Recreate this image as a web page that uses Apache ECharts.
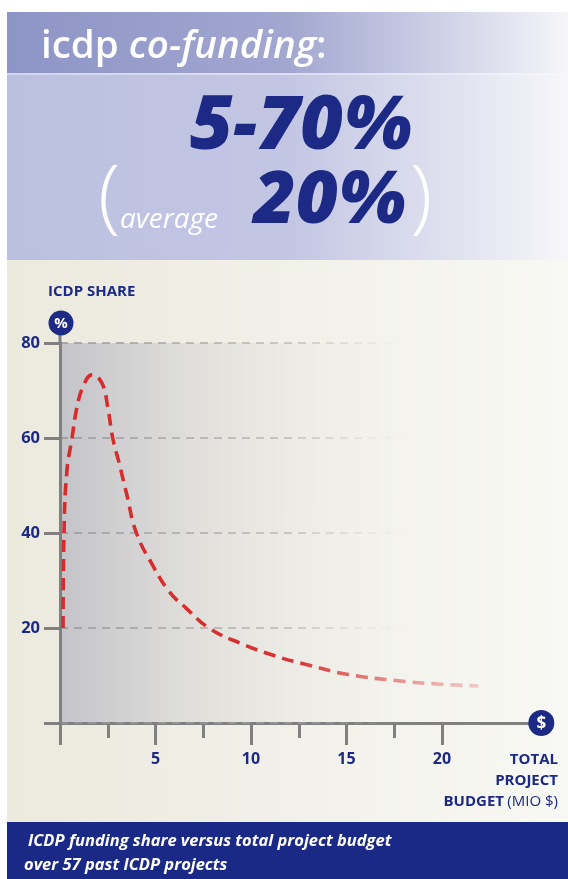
<!DOCTYPE html>
<html><head><meta charset="utf-8">
<script src="https://cdn.jsdelivr.net/npm/echarts@6/dist/echarts.min.js"></script>
<style>
html,body{margin:0;padding:0;background:#fff;width:568px;height:879px;overflow:hidden;}
.bg{position:absolute;left:7px;width:561px;}
#chart{position:absolute;left:0;top:0;width:568px;height:879px;}
</style></head><body>
<div class="bg" style="top:12px;height:61px;background:linear-gradient(90deg,#8d95c7 0%,#a2a7d0 50%,#d6d8ea 82%,#f6f6f9 100%)"></div>
<div class="bg" style="top:73px;height:2px;background:linear-gradient(90deg,#d3d6ec 0%,#dfe1f0 60%,#f8f8fb 100%)"></div>
<div class="bg" style="top:75px;height:185px;background:linear-gradient(90deg,#bcc0e0 0%,#c3c6e3 50%,#e3e4f1 82%,#f7f7fa 100%)"></div>
<div class="bg" style="top:260px;height:562px;background:linear-gradient(90deg,#ece9dd 0%,#f2f1ea 55%,#f8f8f4 100%)"></div>
<div class="bg" style="top:822px;height:57px;background:#1b2986"></div>
<div id="chart"></div>
<script>
// Data
const budgetMio = [0.16, 0.21, 0.36, 0.63, 0.89, 1.2, 1.67, 2.19, 2.5, 2.76, 3.13, 3.49, 4.0, 4.84, 5.73, 6.6, 7.8, 9.5, 11.2, 13.0, 15.1, 17.7, 19.8, 21.9];
const icdpShare = [20, 40, 53, 60, 66.5, 70.7, 73.3, 71.6, 66.5, 60, 54.2, 48.2, 40, 33.3, 27.6, 24.2, 20, 16.7, 14.2, 12.2, 10.2, 8.9, 8.2, 7.8];
const yTickValues = [20, 40, 60, 80];
const xTickLabels = [5, 10, 15, 20];
const xMajorTicks = [0, 5, 10, 15, 20];
const xMinorTicks = [2.5, 7.5, 12.5, 17.5];

const NAVY = '#1c2a85';
const FONT = '"Open Sans", "Noto Sans", sans-serif';
const AXIS_GRAY = '#808080';

const chart = echarts.init(document.getElementById('chart'), null, {renderer: 'canvas'});
const option = {
  backgroundColor: 'transparent',
  animation: false,
  grid: {
    left: 60, top: 343, width: 477.5, height: 380,
    show: true, borderWidth: 0,
    backgroundColor: new echarts.graphic.LinearGradient(0, 0, 1, 0, [
      {offset: 0, color: '#c3c3c9'},
      {offset: 0.28, color: 'rgba(222,221,218,0.9)'},
      {offset: 0.72, color: 'rgba(240,238,232,0)'}
    ])
  },
  xAxis: [{
    type: 'value', min: 0, max: 25, interval: 5,
    axisLine: {show: true, lineStyle: {color: AXIS_GRAY, width: 3}},
    axisTick: {show: true, length: 22, customValues: xMajorTicks, lineStyle: {color: AXIS_GRAY, width: 3}},
    splitLine: {show: false},
    axisLabel: {
      margin: 28, color: NAVY, fontFamily: FONT, fontWeight: 'bold', fontSize: 16,
      verticalAlign: 'top', customValues: xTickLabels,
      formatter: v => (xTickLabels.indexOf(v) >= 0 ? String(v) : '')
    }
  }, {
    type: 'value', min: 0, max: 25, position: 'bottom',
    axisLine: {show: false},
    axisTick: {show: true, length: 15, customValues: xMinorTicks, lineStyle: {color: AXIS_GRAY, width: 3}},
    axisLabel: {show: false},
    splitLine: {show: false}
  }],
  yAxis: {
    type: 'value', min: 0, max: 80, interval: 20, z: 1,
    axisLine: {show: true, lineStyle: {color: AXIS_GRAY, width: 3}},
    axisTick: {show: true, length: 16, lineStyle: {color: AXIS_GRAY, width: 3}},
    splitLine: {
      show: true,
      lineStyle: {
        type: [8, 6], width: 1.6,
        color: new echarts.graphic.LinearGradient(0, 0, 1, 0, [
          {offset: 0, color: 'rgba(150,150,150,1)'},
          {offset: 0.48, color: 'rgba(165,165,165,0.7)'},
          {offset: 0.72, color: 'rgba(190,190,190,0)'}
        ])
      }
    },
    axisLabel: {
      margin: 20, color: NAVY, fontFamily: FONT, fontWeight: 'bold', fontSize: 16.5,
      formatter: v => (yTickValues.indexOf(v) >= 0 ? String(v) : '')
    }
  },
  series: [{
    type: 'line', z: 3, xAxisIndex: 0,
    data: budgetMio.map((x, i) => [x, icdpShare[i]]),
    showSymbol: false, smooth: 0.45,
    lineStyle: {
      width: 3.6, type: [12, 7], cap: 'butt',
      color: new echarts.graphic.LinearGradient(0, 0, 1, 0, [
        {offset: 0, color: '#d62b2b'},
        {offset: 0.55, color: '#d8312f'},
        {offset: 1, color: 'rgba(228,120,120,0.35)'}
      ])
    }
  }]
};
chart.setOption(option);

const o = chart.convertToPixel({gridIndex: 0}, [0, 0]);
const top80 = chart.convertToPixel({gridIndex: 0}, [0, 80]);
const endX = chart.convertToPixel({gridIndex: 0}, [25.2, 0]);
const pctC = [top80[0] + 1, top80[1] - 20];

chart.setOption({
  graphic: [
    {type: 'line', z: 10, shape: {x1: top80[0], y1: top80[1], x2: top80[0], y2: pctC[1]}, style: {stroke: AXIS_GRAY, lineWidth: 3}},
    {type: 'circle', z: 11, shape: {cx: pctC[0], cy: pctC[1], r: 12.5}, style: {fill: NAVY}},
    {type: 'text', z: 12, x: pctC[0], y: pctC[1] + 1, style: {text: '%', fill: '#fff', font: 'bold 15px ' + FONT, align: 'center', verticalAlign: 'middle'}},
    {type: 'circle', z: 11, shape: {cx: endX[0], cy: o[1], r: 13}, style: {fill: NAVY}},
    {type: 'text', z: 12, x: endX[0], y: o[1] + 1, style: {text: '$', fill: '#fff', font: 'bold 17px ' + FONT, align: 'center', verticalAlign: 'middle'}},
    {type: 'text', z: 12, x: 48, y: 292, style: {text: 'ICDP SHARE', fill: NAVY, font: 'bold 15px ' + FONT, align: 'left', verticalAlign: 'middle'}},
    {type: 'text', z: 12, x: 558, y: 760, style: {text: 'TOTAL', fill: NAVY, font: 'bold 15px ' + FONT, align: 'right', verticalAlign: 'middle'}},
    {type: 'text', z: 12, x: 558, y: 781, style: {text: 'PROJECT', fill: NAVY, font: 'bold 15px ' + FONT, align: 'right', verticalAlign: 'middle'}},
    {type: 'text', z: 12, x: 558, y: 802, style: {
      text: '{b|BUDGET} {r|(MIO $)}', align: 'right', verticalAlign: 'middle',
      rich: {b: {fill: NAVY, font: 'bold 15px ' + FONT}, r: {fill: NAVY, font: '15px ' + FONT}}
    }},
    {type: 'text', z: 12, x: 41, y: 47, style: {
      text: '{a|icdp }{b|co-funding}{a|:}', align: 'left', verticalAlign: 'middle',
      rich: {
        a: {fill: '#ffffff', font: '600 38.5px ' + FONT},
        b: {fill: '#ffffff', font: 'italic 600 38.5px ' + FONT}
      }
    }},
    {type: 'text', z: 12, x: 412, y: 128, style: {text: '5-70%', fill: NAVY, font: 'italic 800 74px ' + FONT, align: 'right', verticalAlign: 'middle'}},
    {type: 'text', z: 12, x: 98, y: 200, style: {text: '(', fill: '#ffffff', font: '300 82px ' + FONT, align: 'left', verticalAlign: 'middle'}},
    {type: 'text', z: 12, x: 120, y: 220, style: {text: 'average', fill: '#ffffff', font: 'italic 28px ' + FONT, align: 'left', verticalAlign: 'middle'}},
    {type: 'text', z: 12, x: 406, y: 202, style: {text: '20%', fill: NAVY, font: 'italic 800 73px ' + FONT, align: 'right', verticalAlign: 'middle'}},
    {type: 'text', z: 12, x: 410, y: 200, style: {text: ')', fill: '#ffffff', font: '300 82px ' + FONT, align: 'left', verticalAlign: 'middle'}},
    {type: 'text', z: 12, x: 28, y: 841, style: {text: 'ICDP funding share versus total project budget', fill: '#ffffff', font: 'italic bold 16.5px ' + FONT, align: 'left', verticalAlign: 'middle'}},
    {type: 'text', z: 12, x: 24, y: 865, style: {text: 'over 57 past ICDP projects', fill: '#ffffff', font: 'italic bold 16.5px ' + FONT, align: 'left', verticalAlign: 'middle'}}
  ]
});
</script>
</body></html>
